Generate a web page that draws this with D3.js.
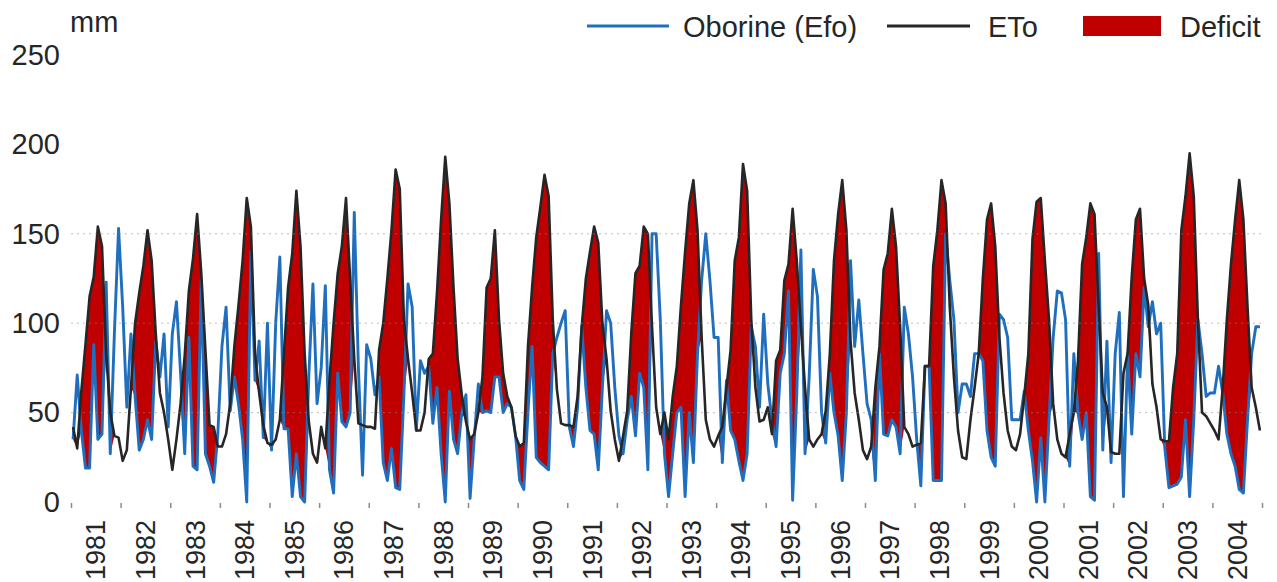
<!DOCTYPE html>
<html>
<head>
<meta charset="utf-8">
<script src="https://cdn.jsdelivr.net/npm/d3@7"></script>
<style>
  html, body { margin: 0; padding: 0; background: #ffffff; }
  svg { display: block; }
  text { font-family: "Liberation Sans", Arial, sans-serif; fill: #262626; }
</style>
</head>
<body>
<svg id="chart" width="1277" height="582"></svg>
<script>
// ---- data (monthly, Jan..Dec for each year) ----
const years = [1981,1982,1983,1984,1985,1986,1987,1988,1989,1990,1991,1992,
               1993,1994,1995,1996,1997,1998,1999,2000,2001,2002,2003,2004];

// Reference evapotranspiration ETo (mm)
const eto = [
  42, 30, 62, 88,115,126,154,143, 83, 50, 37, 36,   // 1981
  23, 29, 64,100,117,132,152,135, 94, 61, 50, 35,   // 1982
  18, 35, 55, 82,118,136,161,128, 85, 43, 42, 31,   // 1983
  31, 38, 55, 87,110,135,170,154, 83, 61, 43, 33,   // 1984
  32, 35, 46, 83,120,139,174,143, 83, 45, 27, 22,   // 1985
  42, 30, 68,100,128,143,170,125, 80, 44, 43, 42,   // 1986
  42, 41, 85,100,125,152,186,175,102, 80, 61, 40,   // 1987
  40, 50, 80, 83,117,158,193,167,120, 80, 60, 45,   // 1988
  35, 38, 50, 70,120,125,152,102, 72, 59, 53, 37,   // 1989
  31, 33, 87,120,148,165,183,171,102, 63, 44, 43,   // 1990
  43, 42, 59, 98,125,140,154,145,100, 80, 51, 35,   // 1991
  23, 37, 51, 95,128,132,154,150, 98, 53, 38, 50,   // 1992
  35, 59, 76,110,140,167,180,152, 92, 46, 35, 31,   // 1993
  37, 42, 64, 85,135,148,189,174,102, 64, 45, 46,   // 1994
  53, 38, 79, 85,124,133,164,135, 98, 64, 35, 31,   // 1995
  35, 38, 51, 83,135,161,180,152, 90, 61, 46, 29,   // 1996
  24, 31, 64, 87,130,139,164,143, 98, 42, 38, 31,   // 1997
  32, 33, 76, 76,132,152,180,167,109, 70, 40, 25,   // 1998
  24, 46, 64, 83,125,158,167,143, 92, 61, 40, 31,   // 1999
  29, 38, 59, 83,147,168,170,135,102, 55, 35, 27,   // 2000
  25, 38, 50, 79,133,148,167,161,109, 61, 53, 28,   // 2001
  27, 27, 72, 83,126,158,164,125,110, 66, 53, 35,   // 2002
  34, 34, 64, 83,152,171,195,171,102, 50, 48, 44,   // 2003
  40, 35, 64,102,133,158,180,158,109, 64, 53, 40    // 2004
];

// Effective precipitation "Oborine (Efo)" (mm)
const efo = [
  35, 71, 40, 19, 19, 88, 35, 38,123, 27, 95,153,   // 1981
 109, 53, 94, 59, 29, 35, 46, 35, 90, 70, 94, 42,   // 1982
  94,112, 72, 27, 92, 20, 18,124, 27, 20, 11, 38,   // 1983
  87,109, 51, 70, 55, 35,  0,140, 68, 90, 36,100,   // 1984
  29,100,137, 41, 41,  3, 27,  3,  0, 70,122, 55,   // 1985
  75,121, 18,  5, 72, 45, 42, 50,162, 75, 15, 88,   // 1986
  80, 60, 70, 22, 12, 30,  8,  7, 60,122,109, 40,   // 1987
  79, 72, 76, 44, 64, 27,  0, 62, 35, 27, 50, 60,   // 1988
   2, 35, 66, 50, 51, 50, 70, 70, 50, 55, 53, 37,   // 1989
  12,  7, 50, 87, 25, 22, 20, 18, 83, 92,100,107,   // 1990
  42, 31, 53, 98, 64, 40, 38, 18, 64,107,100, 64,   // 1991
  37, 27, 46, 59, 37, 72, 64, 18,150,150,102, 27,   // 1992
   3, 27, 50, 53,  3, 50, 22, 83,124,150,124, 92,   // 1993
  92, 22, 68, 40, 35, 23, 12, 27, 98, 87, 53,105,   // 1994
  66, 46, 31, 72, 83,118,  1, 60,141, 27, 70,130,   // 1995
 115, 50, 33, 72, 50, 37, 12, 50,135, 87,113, 83,   // 1996
  55, 46, 12, 83, 38, 37, 46, 42, 27,109, 94, 70,   // 1997
  35,  9, 76, 76, 12, 12, 12,150,124,102, 50, 66,   // 1998
  66, 59, 83, 83, 79, 40, 25, 20,105,102, 92, 46,   // 1999
  46, 46, 62, 40, 23,  0, 36,  0, 46, 92,118,117,   // 2000
 102, 20, 83, 50, 35, 50,  3,  1,139, 29, 90, 22,   // 2001
  83,106,  3, 83, 38, 83, 70,120, 98,112, 94,100,   // 2002
  30,  8,  9, 10, 14, 46,  3, 46,102, 83, 59, 61,   // 2003
  61, 76, 61, 38, 27, 20,  7,  5, 46, 83, 98, 98    // 2004
];

// months (index from Jan 1981) where soil storage covered the demand: no deficit drawn
const noDeficitMonths = [70, 251, 252, 253, 254];

const yTicks = [0, 50, 100, 150, 200, 250];
const gridValues = [50, 100, 150];
const seriesNames = ["Oborine (Efo)", "ETo", "Deficit"];
const colors = { efo: "#1f6fbe", eto: "#262626", deficit: "#c00000" };

// ---- layout ----
const svg = d3.select("#chart");
const plot = { left: 71, right: 1262, top: 55, bottom: 502 };
const nMonths = eto.length;

const x = d3.scaleLinear().domain([0, nMonths]).range([plot.left, plot.right]);
const y = d3.scaleLinear().domain([0, 250]).range([plot.bottom, plot.top]);
const px = i => x(i + 0.5);

const rows = d3.range(nMonths).map(i => {
  const excluded = noDeficitMonths.includes(i);
  const def = excluded ? 0 : Math.max(0, eto[i] - efo[i]);
  return { i, eto: eto[i], efo: efo[i], def };
});

// deficit area
svg.append("path")
  .datum(rows)
  .attr("fill", colors.deficit)
  .attr("d", d3.area()
    .x(d => px(d.i))
    .y0(d => y(d.eto - d.def))
    .y1(d => y(d.eto)));

// Efo line
svg.append("path")
  .datum(rows)
  .attr("fill", "none")
  .attr("stroke", colors.efo)
  .attr("stroke-width", 2.9)
  .attr("stroke-linejoin", "round")
  .attr("d", d3.line().x(d => px(d.i)).y(d => y(d.efo)));

// ETo line
svg.append("path")
  .datum(rows)
  .attr("fill", "none")
  .attr("stroke", colors.eto)
  .attr("stroke-width", 2.6)
  .attr("stroke-linejoin", "round")
  .attr("d", d3.line().x(d => px(d.i)).y(d => y(d.eto)));

// dashed grid lines (drawn over the data)
svg.append("g")
  .selectAll("line")
  .data(gridValues)
  .join("line")
  .attr("x1", plot.left).attr("x2", plot.right)
  .attr("y1", d => y(d)).attr("y2", d => y(d))
  .attr("stroke", "#8a8a8a")
  .attr("stroke-width", 1)
  .attr("stroke-dasharray", "2,4")
  .attr("opacity", 0.55);

// y axis labels
const yAxis = d3.axisLeft(y).tickValues(yTicks).tickSize(0).tickPadding(11);
const gy = svg.append("g").attr("transform", `translate(${plot.left},0)`).call(yAxis);
gy.select(".domain").remove();
gy.selectAll("text")
  .attr("font-size", 29)
  .attr("fill", "#262626")
  .style("font-family", '"Liberation Sans", Arial, sans-serif');

svg.append("text")
  .attr("x", 70).attr("y", 32)
  .attr("font-size", 29)
  .text("mm");

// x axis: year boundary ticks
const tickIdx = d3.range(0, years.length + 1).map(k => k * 12);
const xAxis = d3.axisBottom(x).tickValues(tickIdx).tickSize(5).tickFormat("");
const gx = svg.append("g").attr("transform", `translate(0,${plot.bottom + 1})`).call(xAxis);
gx.select(".domain").remove();
gx.selectAll("line").attr("stroke", "#8a8a8a").attr("stroke-width", 1.5);

// year labels, rotated, centred in each year
svg.append("g")
  .selectAll("text")
  .data(years)
  .join("text")
  .attr("transform", (d, k) => `translate(${x(k * 12 + 6)},520) rotate(-90)`)
  .attr("text-anchor", "end")
  .attr("dy", "0.35em")
  .attr("font-size", 27)
  .text(d => d);

// legend
const lg = svg.append("g");
lg.append("line").attr("x1", 587).attr("x2", 669).attr("y1", 26).attr("y2", 26)
  .attr("stroke", colors.efo).attr("stroke-width", 3);
lg.append("text").attr("x", 683).attr("y", 37).attr("font-size", 29).text(seriesNames[0]);
lg.append("line").attr("x1", 887).attr("x2", 970).attr("y1", 26).attr("y2", 26)
  .attr("stroke", colors.eto).attr("stroke-width", 3);
lg.append("text").attr("x", 988).attr("y", 37).attr("font-size", 29).text(seriesNames[1]);
lg.append("rect").attr("x", 1083).attr("y", 16).attr("width", 78).attr("height", 20)
  .attr("fill", colors.deficit);
lg.append("text").attr("x", 1180).attr("y", 37).attr("font-size", 29).text(seriesNames[2]);
</script>
</body>
</html>
